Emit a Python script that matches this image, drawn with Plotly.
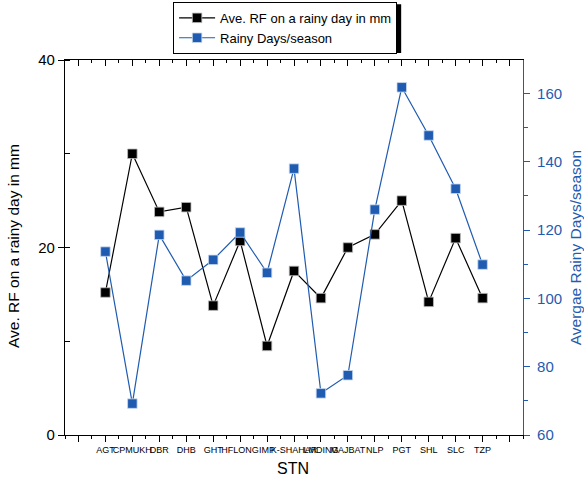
import plotly.graph_objects as go

# Stations along the x axis
stations = ["AGT", "CPMUKH", "DBR", "DHB", "GHT", "HFLONG", "IMP", "K-SHAHAR",
            "LMDING", "MAJBAT", "NLP", "PGT", "SHL", "SLC", "TZP"]
positions = list(range(1, len(stations) + 1))

# Average rainfall on a rainy day (mm)
avg_rf = [15.2, 30.0, 23.8, 24.3, 13.8, 20.7, 9.5, 17.5,
          14.6, 20.0, 21.4, 25.0, 14.2, 21.0, 14.6]
# Average number of rainy days per season
rainy_days = [113.7, 69.2, 118.6, 105.2, 111.3, 119.3, 107.5, 138.0,
              72.2, 77.5, 126.0, 161.8, 147.7, 132.1, 109.9]

BLUE = "#1f5bb0"
FONT = "Liberation Sans, Arial, sans-serif"

tickvals = [0] + positions + [len(stations) + 1]
ticktext = [""] + stations + [""]
xrange_ = [-0.5, len(stations) + 1.5]

fig = go.Figure()
fig.add_trace(go.Scatter(
    x=positions, y=avg_rf, mode="lines+markers",
    name="Ave. RF on a rainy day in mm",
    line=dict(color="black", width=1.2),
    marker=dict(symbol="square", size=9.5, color="black",
                line=dict(color="#bbbbbb", width=0.8)),
    xaxis="x", yaxis="y"))
fig.add_trace(go.Scatter(
    x=positions, y=rainy_days, mode="lines+markers",
    name="Rainy Days/season",
    line=dict(color=BLUE, width=1.2),
    marker=dict(symbol="square", size=9.5, color=BLUE,
                line=dict(color="#c8d8f0", width=0.8)),
    xaxis="x", yaxis="y2"))
# invisible trace that anchors the top frame axis
fig.add_trace(go.Scatter(x=[positions[0]], y=[avg_rf[0]], mode="markers",
                         marker=dict(opacity=0), showlegend=False,
                         hoverinfo="skip", xaxis="x2", yaxis="y"))

fig.update_layout(
    width=584, height=482,
    margin=dict(l=65, r=61, t=60, b=47, autoexpand=False),
    paper_bgcolor="white", plot_bgcolor="white",
    font=dict(family=FONT, color="black", size=14),
    showlegend=True,
    legend=dict(x=0.236, y=1.155, xanchor="left", yanchor="top",
                bgcolor="white", bordercolor="black", borderwidth=1,
                font=dict(size=13, family=FONT), tracegroupgap=0,
                itemwidth=36),
    xaxis=dict(
        range=xrange_, tickmode="array", tickvals=tickvals, ticktext=ticktext,
        ticks="outside", ticklen=6, tickwidth=1, tickcolor="black",
        tickfont=dict(size=9, family=FONT), tickangle=0,
        showline=True, linecolor="black", linewidth=1.2,
        showgrid=False, zeroline=False, automargin=False,
        minor=dict(tickmode="linear", tick0=0.5, dtick=1, ticks="outside",
                   ticklen=3, tickcolor="black", showgrid=False)),
    xaxis2=dict(
        range=xrange_, overlaying="x", side="top", anchor="y",
        tickmode="array", tickvals=tickvals, showticklabels=False,
        ticks="inside", ticklen=6, tickcolor="black",
        showline=True, linecolor="black", linewidth=1.2,
        showgrid=False, zeroline=False, automargin=False,
        minor=dict(tickmode="linear", tick0=0.5, dtick=1, ticks="inside",
                   ticklen=3, tickcolor="black", showgrid=False)),
    yaxis=dict(
        range=[0, 40], tickmode="linear", tick0=0, dtick=20,
        ticks="outside", ticklen=6, tickcolor="black",
        tickfont=dict(size=15),
        showline=True, linecolor="black", linewidth=1.2,
        showgrid=False, zeroline=False, automargin=False,
        minor=dict(tickmode="linear", tick0=0, dtick=10, ticks="inside",
                   ticklen=5, tickcolor="black", showgrid=False)),
    yaxis2=dict(
        range=[60, 169.8], overlaying="y", side="right", anchor="x",
        tickmode="linear", tick0=60, dtick=20,
        ticks="outside", ticklen=6, tickcolor=BLUE,
        tickfont=dict(size=15, color=BLUE), ticklabelstandoff=4,
        showline=True, linecolor=BLUE, linewidth=1.2,
        showgrid=False, zeroline=False, automargin=False,
        minor=dict(tickmode="linear", tick0=60, dtick=10, ticks="outside",
                   ticklen=4, tickcolor=BLUE, showgrid=False)),
)

# axis titles
fig.add_annotation(text="STN", xref="paper", yref="paper", x=0.498, y=-0.088,
                   showarrow=False, font=dict(size=16, family=FONT),
                   xanchor="center", yanchor="middle")
fig.add_annotation(text="Ave. RF on a rainy day in mm", xref="paper",
                   yref="paper", x=-0.1136, y=0.504, textangle=-90,
                   showarrow=False, font=dict(size=15.5, family=FONT),
                   xanchor="center", yanchor="middle")
fig.add_annotation(text="Avergae Rainy Days/season", xref="paper",
                   yref="paper", x=1.1165, y=0.499, textangle=-90,
                   showarrow=False, font=dict(size=15.5, family=FONT, color=BLUE),
                   xanchor="center", yanchor="middle")

# drop shadow behind the legend box
fig.add_shape(type="rect", xref="paper", yref="paper",
              x0=0.245, x1=0.734, y0=1.019, y1=1.149,
              fillcolor="black", line=dict(width=0), layer="above")

fig.write_html("out.html")
